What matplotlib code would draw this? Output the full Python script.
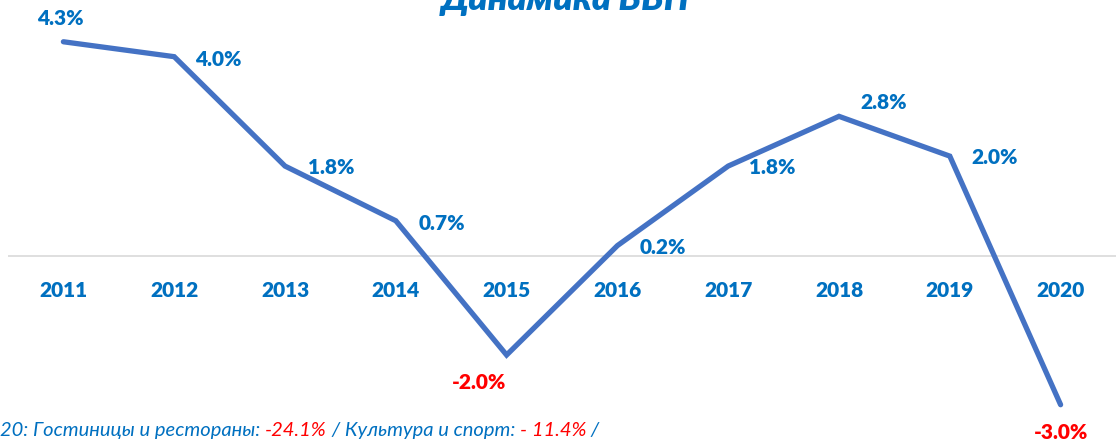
import matplotlib
matplotlib.use("Agg")
import matplotlib.pyplot as plt

years = ["2011", "2012", "2013", "2014", "2015", "2016", "2017", "2018", "2019", "2020"]
gdp = [4.3, 4.0, 1.8, 0.7, -2.0, 0.2, 1.8, 2.8, 2.0, -3.0]
labels = ["4.3%", "4.0%", "1.8%", "0.7%", "-2.0%", "0.2%", "1.8%", "2.8%", "2.0%", "-3.0%"]
# label offsets (points) relative to each data point
offsets = [(-2, 17), (32, -2), (33, -1), (33, -2), (-20, -20),
           (33, -1), (32, -1), (32, 10), (32, -1), (0, -20)]

blue = "#0070C0"
red = "#FF0000"
line_col = "#4472C4"
font = "Lato"

fig = plt.figure(figsize=(11.16, 4.44), dpi=100)
ax = fig.add_axes([8 / 1116, 0, 1108 / 1116, 1])
ax.set_xlim(-0.5, 9.5)
ax.set_ylim(-3.79, 5.14)
ax.axis("off")

ax.axhline(0, color="#D9D9D9", lw=1.2, zorder=1)
x = list(range(len(years)))
ax.plot(x, gdp, color=line_col, lw=3.8, solid_capstyle="round",
        solid_joinstyle="miter", zorder=3)

for i, yr in enumerate(years):
    ax.annotate(yr, (i, 0), xytext=(0, -25), textcoords="offset points",
                ha="center", va="center", color=blue, fontsize=15,
                fontweight="heavy", family=font)

for i, (v, lab) in enumerate(zip(gdp, labels)):
    ax.annotate(lab, (i, v), xytext=offsets[i], textcoords="offset points",
                ha="center", va="center", color=red if v < 0 else blue,
                fontsize=15, fontweight="heavy", family=font, zorder=4)

fig.text(565 / 1116, 1 - 10 / 444, "Динамика ВВП", ha="center", va="baseline",
         color=blue, fontsize=26, fontweight="heavy", style="italic", family=font)

# footnote with mixed colours
parts = [("20: Гостиницы и рестораны: ", blue), ("-24.1%", red),
         (" / Культура и спорт: ", blue), ("- 11.4%", red), (" /", blue)]
fig.canvas.draw()
r = fig.canvas.get_renderer()
xpos = 0
for txt, c in parts:
    t = fig.text(xpos, 1 - 430 / 444, txt, ha="left", va="center", color=c,
                 fontsize=14.5, style="italic", family=font)
    bb = t.get_window_extent(renderer=r)
    xpos += bb.width / fig.bbox.width

fig.savefig("out.png", dpi=100)
